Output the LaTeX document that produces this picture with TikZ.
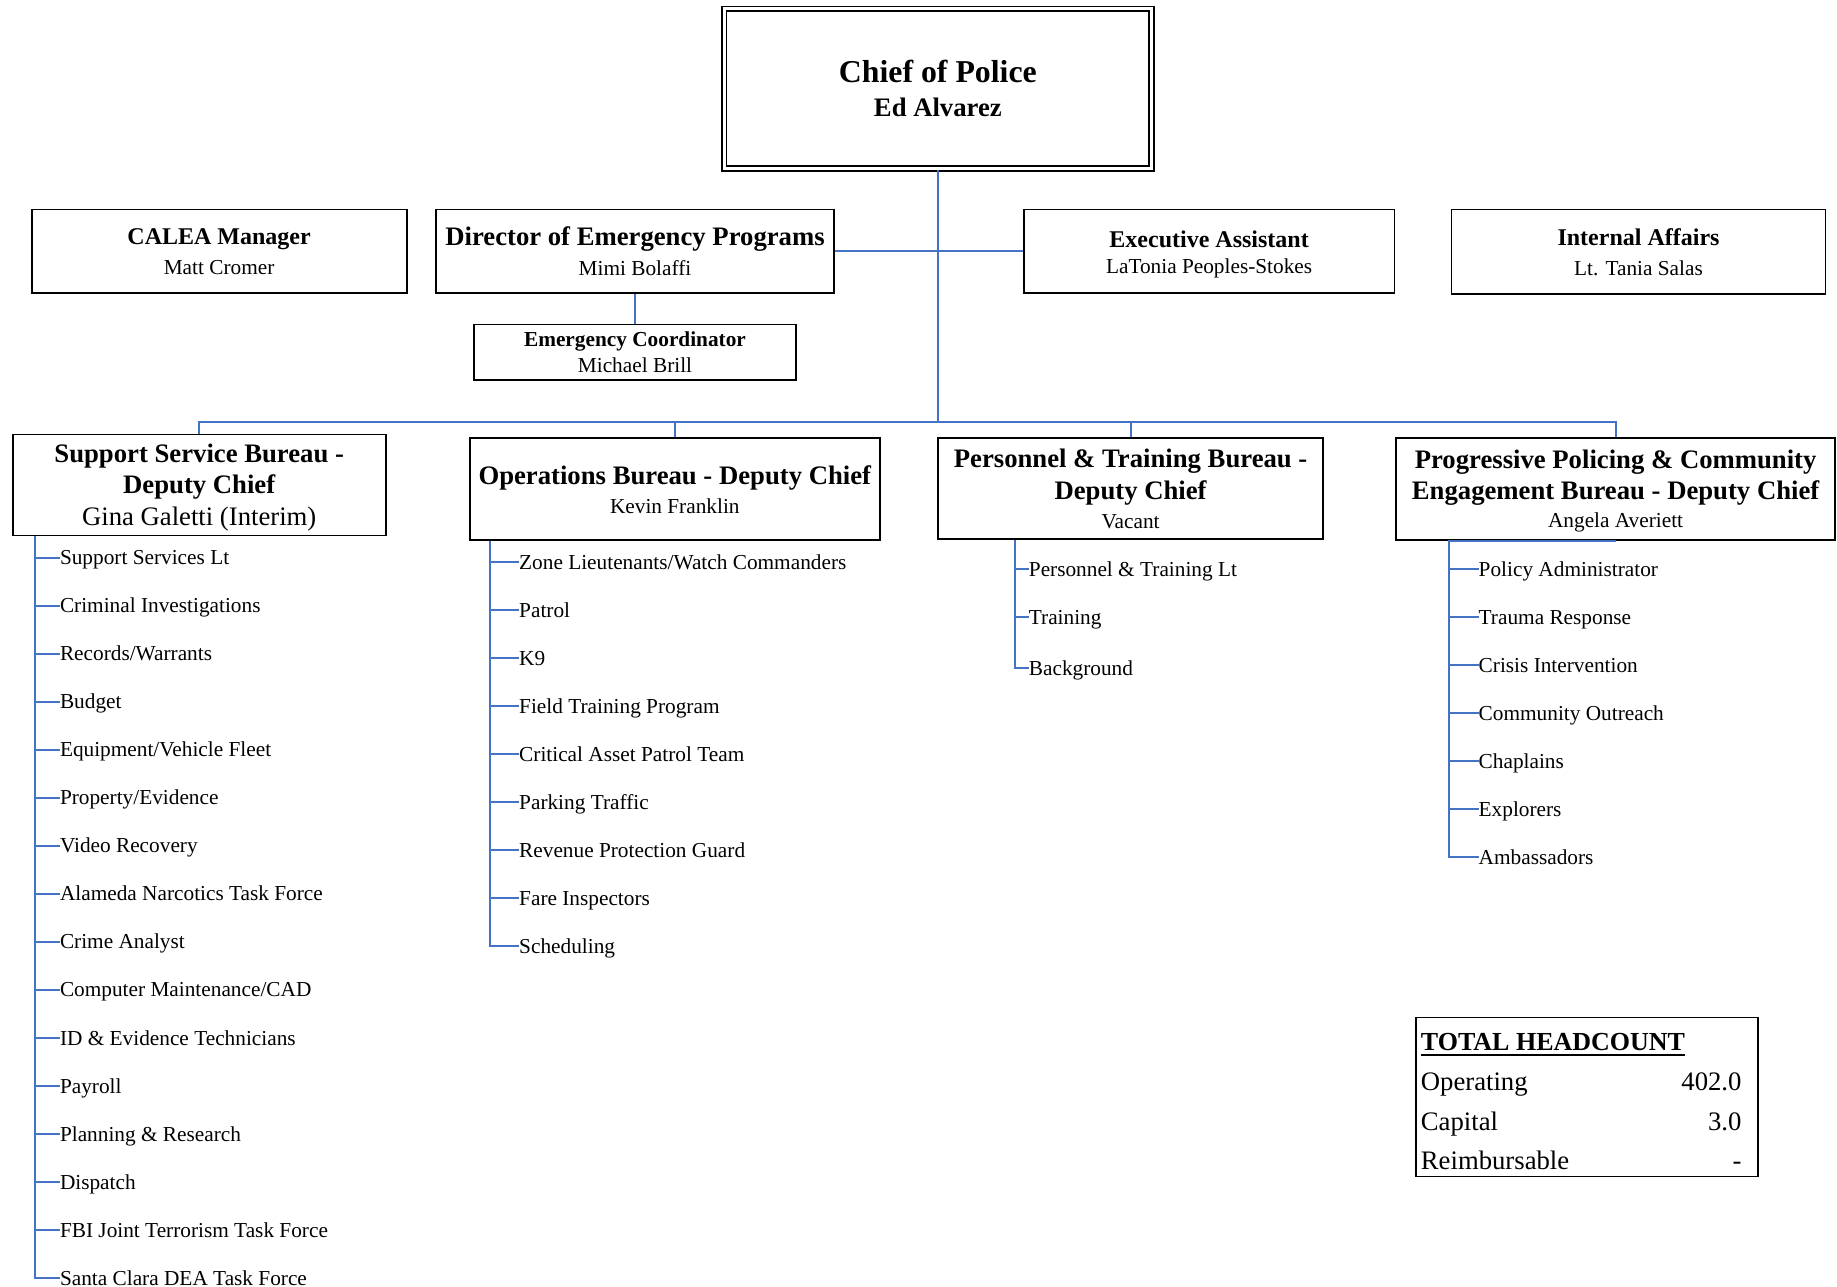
\documentclass[tikz,border=0pt]{standalone}
\usepackage{fontspec}
\setmainfont{Liberation Serif}
\definecolor{cblue}{HTML}{4472C4}
\newcommand\fs[2]{\fontsize{#1}{#2}\selectfont}
\newcommand\dn[2]{\raisebox{-#1pt}[\height][\depth]{#2}}
\begin{document}
\begin{tikzpicture}[x=1pt,y=-1pt,
  box/.style={draw=black, line width=1.8pt, align=center, inner sep=0pt, fill=white},
  conn/.style={draw=cblue, line width=2pt},
  item/.style={anchor=west, inner sep=0pt, font=\fs{21.3}{25}, text height=16pt, text depth=2pt},
  hctext/.style={inner sep=0pt, font=\fs{26.7}{30}}]
\useasboundingbox (0,0) rectangle (1837,1287);

% Chief
\node[box, double, double distance=3pt, line width=1.8pt, minimum width=427.7, minimum height=159.7, font=\fs{31.8}{34}] (chief) at (937.85,88.85)
  {\bfseries\fs{31.8}{33.4}Chief of Police\\\bfseries\fs{26.7}{33.4}Ed Alvarez};

% Row 2
\node[box, minimum width=375, minimum height=83.5, font=\fs{21.3}{30.5}] (calea) at (219.1,251.3)
  {\dn{1}{\bfseries\fs{24}{30}CALEA Manager}\\\fs{21.3}{30}Matt Cromer};
\node[box, minimum width=398.7, minimum height=83.5, font=\fs{21.3}{30.5}] (dir) at (635,251.3)
  {\bfseries\fs{26.7}{30}Director of Emergency Programs\\\fs{21.3}{30}Mimi Bolaffi};
\node[box, minimum width=370.6, minimum height=83.5, font=\fs{21.3}{27.5}] (ea) at (1209.1,251.3)
  {\dn{4}{\bfseries\fs{24}{30}Executive Assistant}\\\dn{2}{\fs{21.3}{30}LaTonia Peoples-Stokes}};
\node[box, minimum width=374, minimum height=84.5, font=\fs{21.3}{30.5}] (ia) at (1638.5,251.8)
  {\dn{1}{\bfseries\fs{24}{30}Internal Affairs}\\\fs{21.3}{30}Lt. Tania Salas};
\node[box, minimum width=321.4, minimum height=55.4, font=\fs{21.3}{25.8}] (ec) at (635,352.1)
  {\bfseries\fs{21.3}{25}Emergency Coordinator\\\fs{21.3}{25}Michael Brill};

% Bureaus
\node[box, minimum width=373, minimum height=101, font=\fs{26.7}{31.6}] (ssb) at (199.2,485)
  {\dn{2.5}{\bfseries\fs{26.7}{30}Support Service Bureau -}\\\dn{2.5}{\bfseries\fs{26.7}{30}Deputy Chief}\\\dn{2.5}{\fs{26.7}{30}Gina Galetti (Interim)}};
\node[box, minimum width=410.4, minimum height=102.3, font=\fs{26.7}{29.3}] (ops) at (674.8,489.2)
  {\dn{1}{\bfseries\fs{26.7}{30}Operations Bureau - Deputy Chief}\\\fs{21.3}{25}Kevin Franklin};
\node[box, minimum width=384.6, minimum height=101, font=\fs{26.7}{31.6}] (pt) at (1130.6,488.6)
  {\bfseries\fs{26.7}{30}Personnel \& Training Bureau -\\\dn{0.5}{\bfseries\fs{26.7}{30}Deputy Chief}\\[-2.3pt]\fs{21.3}{25}Vacant};
\node[box, minimum width=438.5, minimum height=102, font=\fs{26.7}{31.6}] (ppce) at (1615.6,489)
  {\dn{2.5}{\bfseries\fs{26.7}{30}Progressive Policing \& Community}\\\dn{2.5}{\bfseries\fs{26.7}{30}Engagement Bureau - Deputy Chief}\\[-2.3pt]\dn{1}{\fs{21.3}{25}Angela Averiett}};

% Top connectors
\coordinate (bus) at (937.3,421.8);
\draw[conn] (chief.south) -- (chief.south |- bus);
\draw[conn] (dir.east) -- (ea.west);
\draw[conn] (dir.south) -- (ec.north);
\draw[conn] (ssb.north) |- (chief.south |- bus);
\draw[conn] (ops.north) |- (chief.south |- bus);
\draw[conn] (pt.north) |- (chief.south |- bus);
\draw[conn] (ppce.north) |- (chief.south |- bus);

% Support Service list
\coordinate (sT) at ([xshift=23.4pt]ssb.south west);
\foreach \t [count=\i] in {Support Services Lt, Criminal Investigations, Records/Warrants, Budget, Equipment/Vehicle Fleet, Property/Evidence, Video Recovery, Alameda Narcotics Task Force, Crime Analyst, Computer Maintenance/CAD, ID \& Evidence Technicians, Payroll, Planning \& Research, Dispatch, FBI Joint Terrorism Task Force, Santa Clara DEA Task Force} {
  \node[item] (s\i) at (59.8,{557.7+48.03*(\i-1)}) {\t};
  \draw[conn] (sT |- s\i.west) -- (s\i.west);
}
\draw[conn] (sT) |- (s16.west);

% Operations list
\coordinate (oT) at ([xshift=21.1pt]ops.south west);
\foreach \t [count=\i] in {Zone Lieutenants/Watch Commanders, Patrol, K9, Field Training Program, Critical Asset Patrol Team, Parking Traffic, Revenue Protection Guard, Fare Inspectors, Scheduling} {
  \node[item] (o\i) at (519,{562.4+48*(\i-1)}) {\t};
  \draw[conn] (oT |- o\i.west) -- (o\i.west);
}
\draw[conn] (oT) |- (o9.west);

% Personnel & Training list
\coordinate (pT) at ([xshift=77.3pt]pt.south west);
\foreach \t/\yy [count=\i] in {Personnel \& Training Lt/569.4, Training/617.4, Background/668} {
  \node[item] (p\i) at (1028.7,\yy) {\t};
  \draw[conn] (pT |- p\i.west) -- (p\i.west);
}
\draw[conn] (pT) |- (p3.west);

% Progressive Policing list
\coordinate (qT) at ([xshift=53.9pt]ppce.south west);
\foreach \t [count=\i] in {Policy Administrator, Trauma Response, Crisis Intervention, Community Outreach, Chaplains, Explorers, Ambassadors} {
  \node[item] (q\i) at (1478.5,{569.4+48*(\i-1)}) {\t};
  \draw[conn] (qT |- q\i.west) -- (q\i.west);
}
\draw[conn] (ppce.south) -- (qT) |- (q7.west);

% Headcount
\node[draw, line width=1.5pt, minimum width=342, minimum height=159, inner sep=0pt] (hc) at (1587,1097) {};
\node[anchor=base west, inner sep=0pt, font=\bfseries\fs{26}{30}] (hch) at (1420.7,1050) {TOTAL HEADCOUNT};
\draw[line width=2.2pt] ([yshift=-4.7pt]hch.base west) -- ([yshift=-4.7pt]hch.base east);
\node[hctext, anchor=base west] (hop) at (1420.7,1090.5) {Operating};
\node[hctext, anchor=base east] (hopv) at (1741.7,1090.5) {402.0};
\node[hctext, anchor=base west] (hca) at (1420.7,1130) {Capital};
\node[hctext, anchor=base east] (hcav) at (1741.7,1130) {3.0};
\node[hctext, anchor=base west] (hre) at (1420.7,1169.5) {Reimbursable};
\node[hctext, anchor=base east] (hrev) at (1741.7,1169.5) {-};
\end{tikzpicture}
\end{document}
